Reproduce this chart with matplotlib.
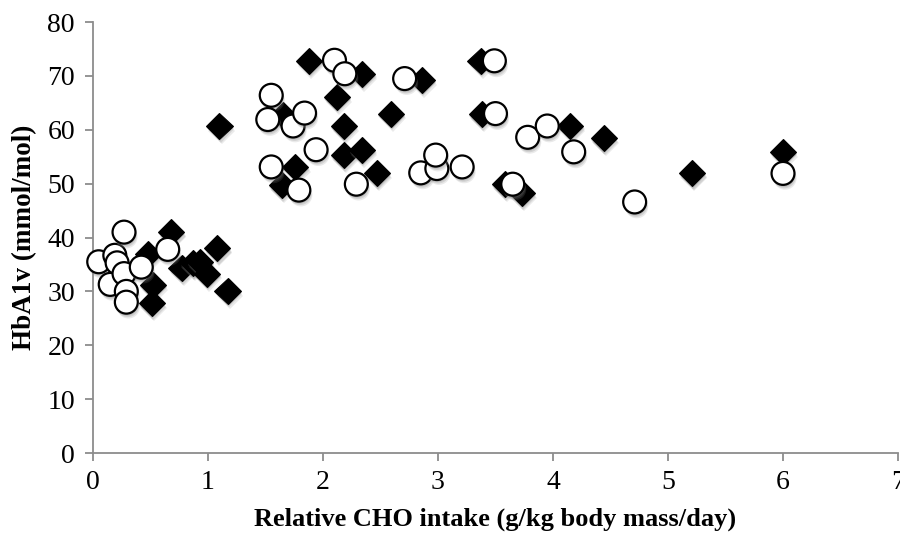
import matplotlib
matplotlib.use("Agg")
import matplotlib.pyplot as plt
import matplotlib.patheffects as pe

# Relative CHO intake (g/kg body mass/day) and HbA1v (mmol/mol)
diamond_x = [0.68, 0.48, 0.52, 0.51, 0.77, 0.87, 0.93, 0.99, 1.08, 1.17,
             1.10, 1.65, 1.88, 1.76, 1.64, 2.34, 2.12, 2.86, 2.59, 2.18,
             2.18, 2.34, 2.47, 3.37, 3.38, 4.15, 4.44, 3.58, 3.73, 5.21, 6.00]
diamond_y = [41.0, 37.0, 31.2, 27.8, 34.3, 35.2, 35.5, 33.3, 38.0, 30.1,
             60.7, 62.7, 72.8, 53.1, 49.7, 70.4, 66.1, 69.3, 63.0, 60.7,
             55.3, 56.3, 51.9, 72.8, 62.9, 60.7, 58.4, 49.9, 48.2, 51.9, 55.9]

circle_x = [0.05, 0.19, 0.21, 0.27, 0.15, 0.27, 0.42, 0.65, 0.29, 0.29,
            1.55, 1.52, 1.74, 1.84, 1.94, 2.10, 1.55, 1.79, 2.19, 2.71,
            2.29, 2.85, 2.99, 2.98, 3.21, 3.49, 3.50, 3.78, 3.95, 4.18,
            3.65, 4.71, 6.00]
circle_y = [35.5, 36.7, 35.3, 41.0, 31.3, 33.3, 34.5, 37.8, 30.0, 28.0,
            66.4, 61.9, 60.7, 63.1, 56.3, 72.9, 53.1, 48.8, 70.4, 69.5,
            49.9, 52.0, 52.8, 55.3, 53.1, 72.8, 63.0, 58.6, 60.7, 55.9,
            49.9, 46.6, 51.9]

x_ticks = [0, 1, 2, 3, 4, 5, 6, 7]
y_ticks = [0, 10, 20, 30, 40, 50, 60, 70, 80]

plt.rcParams['font.family'] = ['Liberation Serif', 'DejaVu Serif']

fig = plt.figure(figsize=(9, 5.37), dpi=100)
ax = fig.add_axes([0.1033, 0.1564, 0.8945, 0.8026])

# soft drop shadow under each marker
shadow = [
    pe.SimplePatchShadow(offset=(1.5, -3.5), shadow_rgbFace='0.55', alpha=0.18),
    pe.SimplePatchShadow(offset=(1.0, -2.5), shadow_rgbFace='0.5', alpha=0.22),
    pe.SimplePatchShadow(offset=(0.5, -1.5), shadow_rgbFace='0.5', alpha=0.25),
    pe.Normal(),
]

for x, y in zip(diamond_x, diamond_y):
    ax.plot([x], [y], linestyle='none', marker='D', markersize=13.3,
            markerfacecolor='black', markeredgecolor='black',
            markeredgewidth=0.8, clip_on=False, zorder=3,
            path_effects=shadow)

for x, y in zip(circle_x, circle_y):
    ax.plot([x], [y], linestyle='none', marker='o', markersize=16.5,
            markerfacecolor='white', markeredgecolor='black',
            markeredgewidth=1.6, clip_on=False, zorder=4,
            path_effects=shadow)

ax.set_xlim(0, 7)
ax.set_ylim(0, 80)
ax.set_xticks(x_ticks)
ax.set_yticks(y_ticks)
ax.set_xticklabels([str(v) for v in x_ticks])
ax.set_yticklabels([str(v) for v in y_ticks])

for side in ('top', 'right'):
    ax.spines[side].set_visible(False)
for side in ('left', 'bottom'):
    ax.spines[side].set_color('#8c8c8c')
    ax.spines[side].set_linewidth(1.3)

ax.tick_params(axis='both', direction='out', length=6, width=1.3,
               color='#8c8c8c', labelsize=20, labelcolor='black')
ax.tick_params(axis='x', pad=6)
ax.tick_params(axis='y', pad=7)

ax.set_xlabel('Relative CHO intake (g/kg body mass/day)', fontsize=19,
              fontweight='bold', labelpad=9)
ax.set_ylabel('HbA1v (mmol/mol)', fontsize=19.5, fontweight='bold',
              labelpad=7)

fig.savefig('out.png', dpi=100)
